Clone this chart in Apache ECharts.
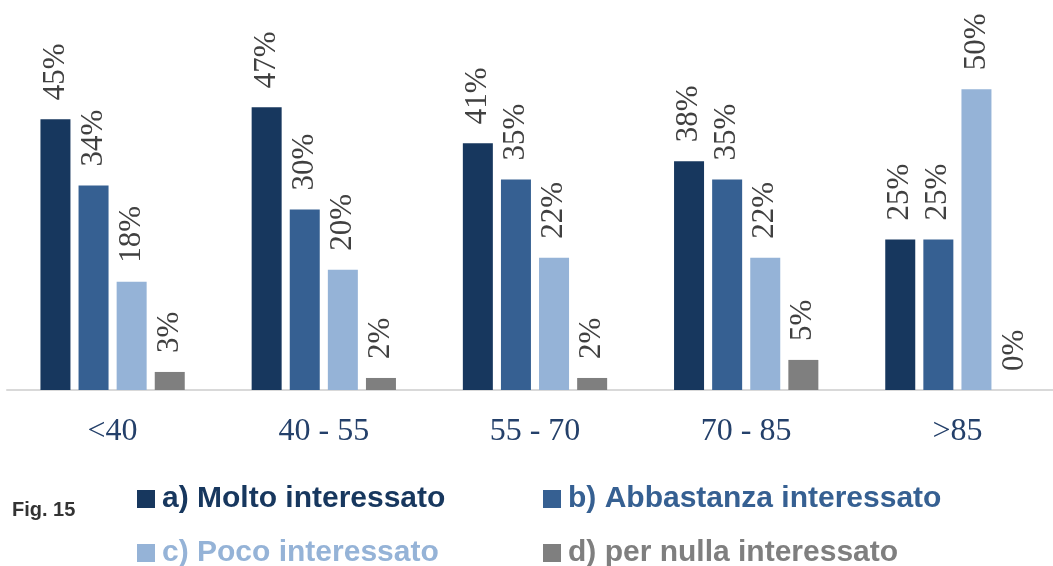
<!DOCTYPE html>
<html>
<head>
<meta charset="utf-8">
<script src="https://cdn.jsdelivr.net/npm/echarts@6/dist/echarts.min.js"></script>
<style>
html,body{margin:0;padding:0;background:#ffffff;overflow:hidden;}
#chart{width:1053px;height:566px;}
</style>
</head>
<body>
<div id="chart"></div>
<script>
const categories = ['<40', '40 - 55', '55 - 70', '70 - 85', '>85'];
const seriesNames = ['a) Molto interessato', 'b) Abbastanza interessato', 'c) Poco interessato', 'd) per nulla interessato'];
const molto = [45, 47, 41, 38, 25];
const abbastanza = [34, 30, 35, 35, 25];
const poco = [18, 20, 22, 22, 50];
const nulla = [3, 2, 2, 5, 0];
const colors = ['#17375E', '#366092', '#95B3D7', '#7F7F7F'];
const values = [molto, abbastanza, poco, nulla];

const chart = echarts.init(document.getElementById('chart'));

const legendPos = [
  {left: 132, top: 479},
  {left: 538, top: 479},
  {left: 132, top: 533},
  {left: 538, top: 533}
];

const option = {
  backgroundColor: '#ffffff',
  animation: false,
  grid: {left: 7, width: 1056, top: 29, bottom: 176, containLabel: false, outerBoundsMode: 'none'},
  xAxis: {
    type: 'category',
    data: categories,
    axisLine: {show: true, lineStyle: {color: '#D9D9D9', width: 2}},
    axisTick: {show: false},
    axisLabel: {
      margin: 26,
      fontFamily: 'Liberation Serif',
      fontSize: 32,
      color: '#24406A'
    }
  },
  yAxis: {
    type: 'value',
    min: 0,
    max: 60,
    show: false,
    splitLine: {show: false}
  },
  legend: seriesNames.map((n, i) => ({
    data: [n],
    left: legendPos[i].left,
    top: legendPos[i].top,
    orient: 'horizontal',
    itemWidth: 18,
    itemHeight: 18,
    icon: 'rect',
    selectedMode: false,
    textStyle: {
      fontFamily: 'Liberation Sans',
      fontWeight: 'bold',
      fontSize: 30,
      color: colors[i],
      padding: [0, 0, 0, 2]
    }
  })),
  graphic: [{
    type: 'text',
    left: 12,
    top: 500,
    style: {
      text: 'Fig. 15',
      fontFamily: 'Liberation Sans',
      fontWeight: 'bold',
      fontSize: 20,
      fill: '#333333'
    }
  }],
  series: seriesNames.map((n, i) => ({
    name: n,
    type: 'bar',
    data: values[i],
    barWidth: 30,
    barGap: '27%',
    itemStyle: {color: colors[i]},
    label: {
      show: true,
      position: 'top',
      distance: 19,
      rotate: 90,
      align: 'left',
      verticalAlign: 'middle',
      formatter: p => p.value + '%',
      fontFamily: 'Liberation Serif',
      fontSize: 31,
      color: '#404040'
    }
  }))
};
chart.setOption(option);
</script>
</body>
</html>
